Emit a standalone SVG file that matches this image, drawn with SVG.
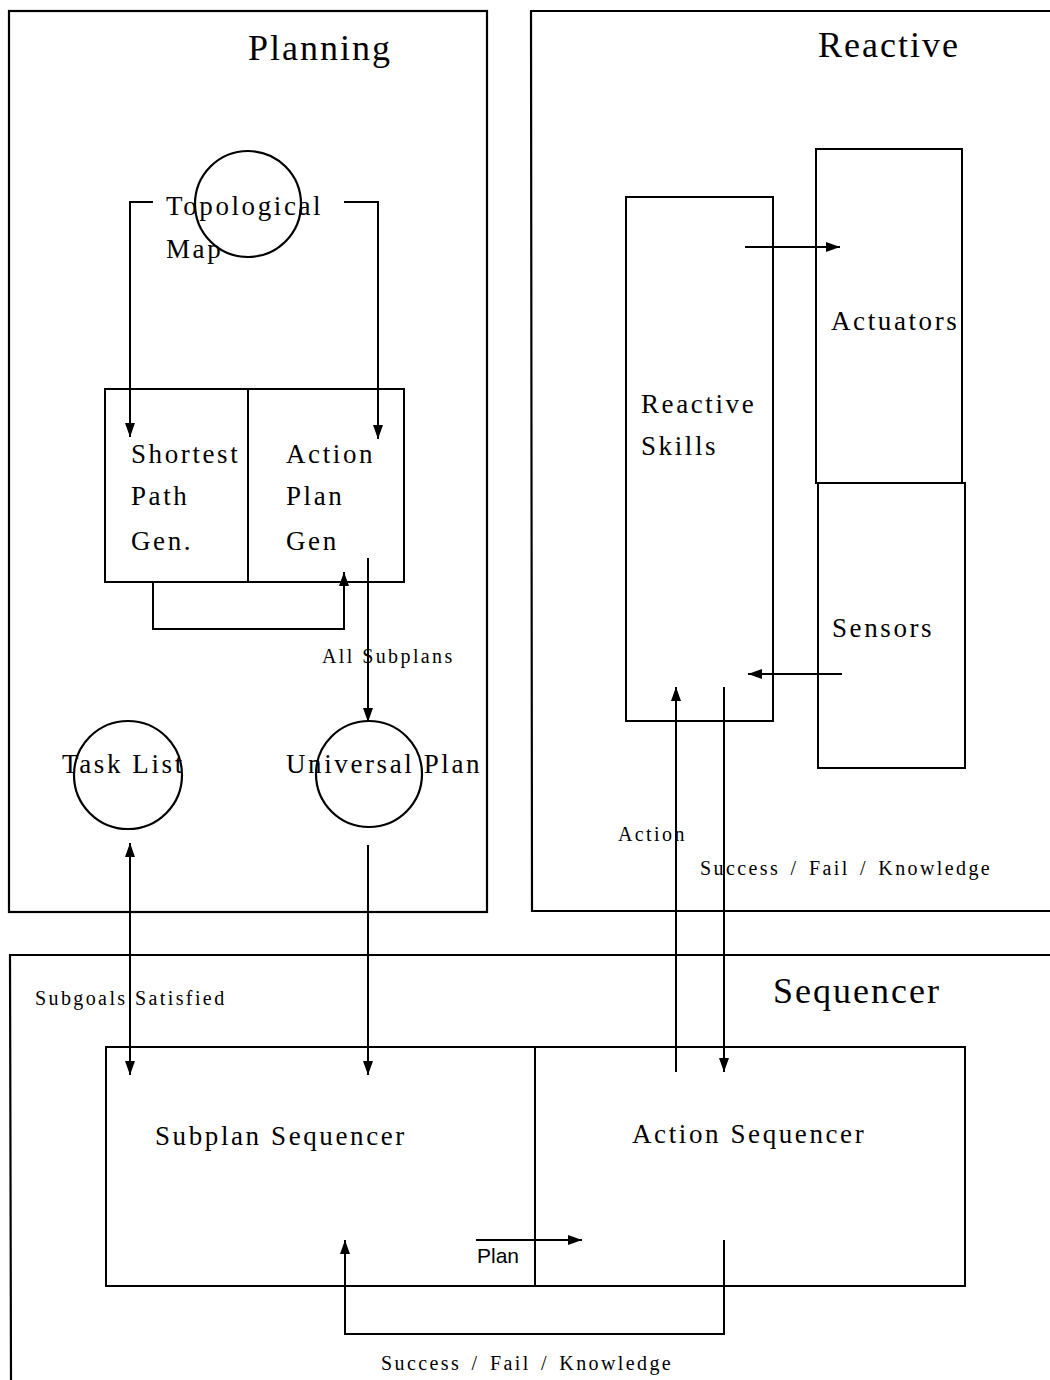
<svg xmlns="http://www.w3.org/2000/svg" width="1050" height="1380" viewBox="0 0 1050 1380">
<style>
.frame{fill:none;stroke:#000;stroke-width:2.2}
.box{fill:none;stroke:#000;stroke-width:2}
.circ{fill:none;stroke:#000;stroke-width:2.2}
.ln{fill:none;stroke:#000;stroke-width:2}
.t{font-family:"Liberation Serif",serif;fill:#000}
.title{font-size:36px;letter-spacing:2px}
.big{font-size:27px;letter-spacing:2.6px}
.sm{font-size:20px;letter-spacing:2.4px}
.wide{word-spacing:3px}
.sans{font-family:"Liberation Sans",sans-serif;font-size:21px;fill:#000}
</style>
<defs>
<marker id="ah" markerUnits="userSpaceOnUse" markerWidth="16" markerHeight="12" refX="14" refY="5" orient="auto">
<path d="M0,0 L14,5 L0,10 Z" fill="#000"/>
</marker>
</defs>
<rect width="1050" height="1380" fill="#fff"/>

<g id="planning">
<rect class="frame" x="9" y="11" width="478" height="901"/>
<text class="t title" x="248" y="60">Planning</text>
</g>
<g id="reactive">
<path class="frame" d="M1052,11 L531,11 L532,911 L1052,911"/>
<text class="t title" x="818" y="57">Reactive</text>
</g>
<g id="sequencer">
<path class="frame" d="M1052,955 L10,955 L11,1380"/>
<text class="t title" x="773" y="1003">Sequencer</text>
</g>

<g id="topological-map">
<circle class="circ" cx="248" cy="204" r="53"/>
<text class="t big" x="166" y="215">Topological</text>
<text class="t big" x="166" y="258">Map</text>
</g>
<g id="shortest-path-gen">
<rect class="box" x="105" y="389" width="143" height="193"/>
<text class="t big" x="131" y="463">Shortest</text>
<text class="t big" x="131" y="505">Path</text>
<text class="t big" x="131" y="550">Gen.</text>
</g>
<g id="action-plan-gen">
<rect class="box" x="248" y="389" width="156" height="193"/>
<text class="t big" x="286" y="463">Action</text>
<text class="t big" x="286" y="505">Plan</text>
<text class="t big" x="286" y="550">Gen</text>
</g>
<g id="task-list">
<circle class="circ" cx="128" cy="775" r="54"/>
<text class="t big" x="62" y="773">Task List</text>
</g>
<g id="universal-plan">
<circle class="circ" cx="369" cy="774" r="53"/>
<text class="t big" x="286" y="773">Universal Plan</text>
</g>
<g id="reactive-skills">
<rect class="box" x="626" y="197" width="147" height="524"/>
<text class="t big" x="641" y="413">Reactive</text>
<text class="t big" x="641" y="455">Skills</text>
</g>
<g id="actuators">
<rect class="box" x="816" y="149" width="146" height="334"/>
<text class="t big" x="831" y="330">Actuators</text>
</g>
<g id="sensors">
<rect class="box" x="818" y="483" width="147" height="285"/>
<text class="t big" x="832" y="637">Sensors</text>
</g>
<g id="subplan-sequencer">
<rect class="box" x="106" y="1047" width="429" height="239"/>
<text class="t big" x="155" y="1145">Subplan Sequencer</text>
</g>
<g id="action-sequencer">
<rect class="box" x="535" y="1047" width="430" height="239"/>
<text class="t big" x="632" y="1143">Action Sequencer</text>
</g>

<g id="connectors">
<path class="ln" d="M153,202 L130,202 L130,437" marker-end="url(#ah)"/>
<path class="ln" d="M344,202 L378,202 L378,439" marker-end="url(#ah)"/>
<path class="ln" d="M153,582 L153,629 L344,629 L344,572" marker-end="url(#ah)"/>
<path class="ln" d="M368,558 L368,722" marker-end="url(#ah)"/>
<text class="t sm" x="322" y="663">All Subplans</text>
<path class="ln" d="M130,860 L130,843" marker-end="url(#ah)"/>
<path class="ln" d="M130,850 L130,1075" marker-end="url(#ah)"/>
<text class="t sm" x="35" y="1005">Subgoals Satisfied</text>
<path class="ln" d="M368,845 L368,1075" marker-end="url(#ah)"/>
<path class="ln" d="M745,247 L840,247" marker-end="url(#ah)"/>
<path class="ln" d="M842,674 L748,674" marker-end="url(#ah)"/>
<path class="ln" d="M676,1072 L676,687" marker-end="url(#ah)"/>
<path class="ln" d="M724,687 L724,1072" marker-end="url(#ah)"/>
<text class="t sm" x="618" y="841">Action</text>
<text class="t sm wide" x="700" y="875">Success / Fail / Knowledge</text>
<path class="ln" d="M476,1240 L582,1240" marker-end="url(#ah)"/>
<text class="sans" x="477" y="1263">Plan</text>
<path class="ln" d="M724,1240 L724,1334 L345,1334 L345,1240" marker-end="url(#ah)"/>
<text class="t sm wide" x="381" y="1370">Success / Fail / Knowledge</text>
</g>
</svg>
